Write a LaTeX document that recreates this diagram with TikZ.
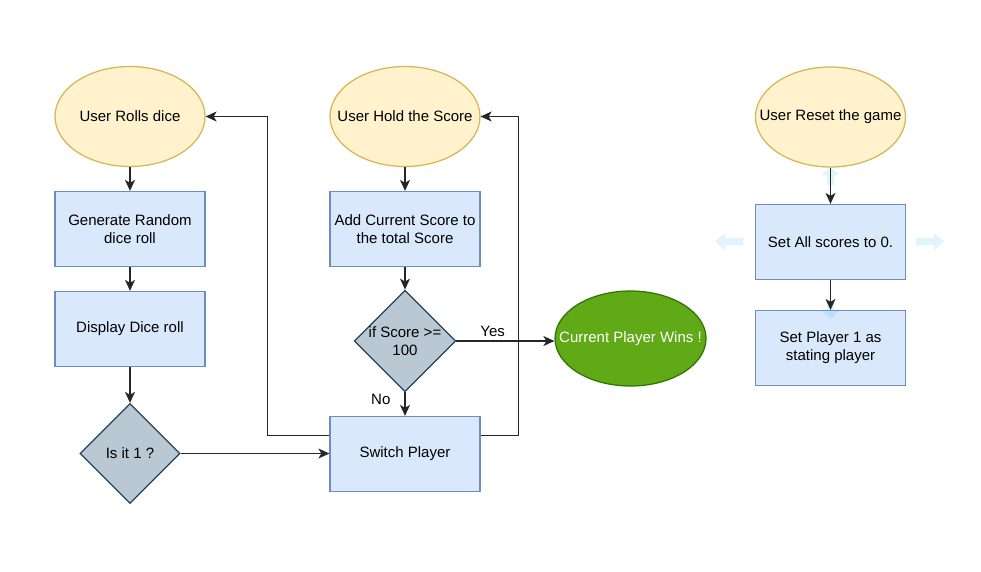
\documentclass[tikz,border=0pt]{standalone}
\usepackage{fontspec}
\setmainfont{Liberation Sans}
\usetikzlibrary{shapes.geometric,arrows.meta}
\definecolor{ellfill}{HTML}{FFF2CC}
\definecolor{ellline}{HTML}{D6B656}
\definecolor{boxfill}{HTML}{DAE8FC}
\definecolor{boxline}{HTML}{6C8EBF}
\definecolor{decfill}{HTML}{BAC8D3}
\definecolor{decline}{HTML}{23445D}
\definecolor{winfill}{HTML}{60A917}
\definecolor{winline}{HTML}{2D7600}
\definecolor{hintblue}{HTML}{29B6F2}
\begin{document}
\begin{tikzpicture}[x=1pt,y=-1pt,
  base/.style={inner sep=0pt, font=\fontsize{15}{18}\selectfont, align=center, line width=1.25pt},
  term/.style={base, ellipse, draw=ellline, fill=ellfill, minimum width=150pt, minimum height=100pt},
  proc/.style={base, rectangle, draw=boxline, fill=boxfill, minimum width=150pt, minimum height=75pt},
  dec/.style={base, diamond, draw=decline, fill=decfill, minimum width=100pt, minimum height=100pt, aspect=1},
  win/.style={base, ellipse, draw=winline, fill=winfill, text=white, minimum width=151pt, minimum height=95pt},
  conn/.style={draw=black!85, line width=1.25pt, -{Stealth[length=11pt,width=10pt,inset=3pt]}},
  lbl/.style={inner sep=0pt, font=\fontsize{15}{18}\selectfont},
  hint/.style={fill=hintblue, fill opacity=0.15, draw=none}
]
\useasboundingbox (0,0) rectangle (981,571);
\fill[white] (0,0) rectangle (981,571);

% left column
\node[term] (r1) at (130,116.5) {\makebox[0pt]{User Rolls dice}};
\node[proc] (r2) at (130,229) {Generate Random\\dice roll};
\node[proc] (r3) at (130,329) {Display Dice roll};
\node[dec]  (r4) at (130,453.5) {Is it 1 ?};

% middle column
\node[term] (h1) at (405,116.5) {\makebox[0pt]{User Hold the Score}};
\node[proc] (h2) at (405,229) {Add Current Score to\\the total Score};
\node[dec]  (h3) at (405,341) {if Score >=\\100};
\node[proc] (sw) at (405,454) {Switch Player};

\node[win] (wn) at (630.5,338.5) {\makebox[0pt]{Current Player Wins !}};

% right column
\node[term] (s1) at (830.5,117) {\makebox[0pt]{User Reset the game}};
\node[proc] (s2) at (830.5,242) {Set All scores to 0.};
\node[proc] (s3) at (830.5,348) {Set Player 1 as\\stating player};

% faint hint arrows
\fill[hint] (743,238)--(725,238)--(725,233)--(715,241.5)--(725,250)--(725,245)--(743,245)--cycle;
\fill[hint] (916,238)--(934,238)--(934,233)--(944,241.5)--(934,250)--(934,245)--(916,245)--cycle;
\fill[hint] (827,185)--(827,175)--(822,175)--(830.5,167)--(839,175)--(834,175)--(834,185)--cycle;
\fill[hint] (827,302)--(827,311)--(822,311)--(830.5,319)--(839,311)--(834,311)--(834,302)--cycle;

% connectors
\draw[conn] (r1) -- (r2);
\draw[conn] (r2) -- (r3);
\draw[conn] (r3) -- (r4);
\draw[conn] (r4.east) -- (r4.east -| sw.west);
\draw[conn] ([yshift=18.5pt]sw.west) -- ++(-62,0) |- (r1.east);
\draw[conn] (h1) -- (h2);
\draw[conn] (h2) -- (h3);
\draw[conn] (h3) -- node[lbl, pos=0.3, left=14pt] (no) {No} (sw);
\draw[conn] (h3.east) -- node[lbl, pos=0.37, above=4pt] (yes) {Yes} (h3.east -| wn.west);
\draw[conn] ([yshift=18.5pt]sw.east) -- ++(38,0) |- (h1.east);
\draw[conn] (s1) -- (s2);
\draw[conn] (s2) -- (s3);
\end{tikzpicture}
\end{document}
